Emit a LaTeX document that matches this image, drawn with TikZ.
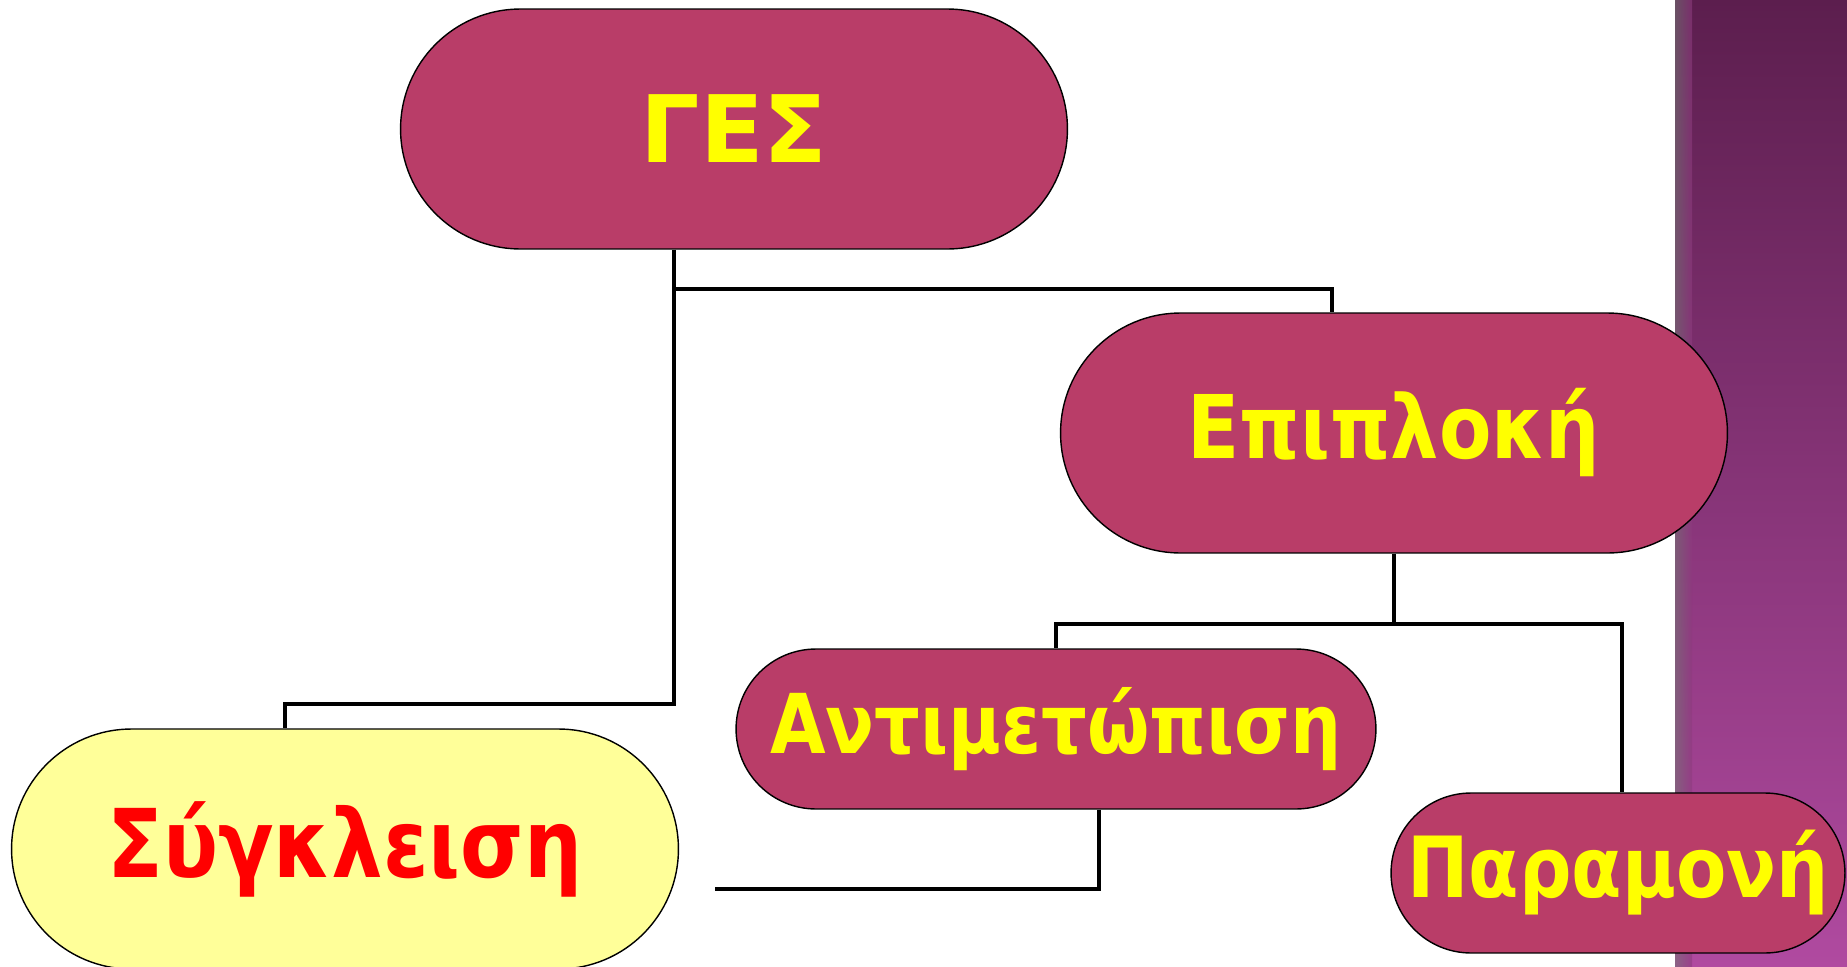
\documentclass[tikz,border=0pt]{standalone}
\usepackage{fontspec}
\setmainfont[FakeStretch=0.87]{DejaVu Sans}
\newfontfamily\gesfont{DejaVu Sans}
\newfontfamily\sygfont[FakeStretch=0.86]{DejaVu Sans}
\usetikzlibrary{shapes.misc,positioning,calc}
\definecolor{pillfill}{RGB}{185,61,104}
\definecolor{pillyellow}{RGB}{255,255,0}
\definecolor{sygfill}{RGB}{255,255,153}
\definecolor{stripTop}{RGB}{92,30,78}
\definecolor{stripBot}{RGB}{176,74,160}

\begin{document}
\begin{tikzpicture}[x=0.02cm,y=-0.02cm]
    % Stili
    \tikzset{
        pill/.style={rounded rectangle, draw=black, line width=0.8pt, fill=pillfill, text=pillyellow, font=\bfseries, inner sep=0pt},
        bigpill/.style={pill, minimum width=13.34cm, minimum height=4.8cm},
        smallpill/.style={pill, minimum height=3.2cm},
        link/.style={draw=black, line width=2.8pt}
    }
    \useasboundingbox (0,0) rectangle (1847,967);

    % Fascia laterale
    \shade[top color=stripTop, bottom color=stripBot] (1675,0) rectangle (1847,967);
    \shade[left color=black!55, right color=stripBot!60!stripTop, opacity=0.6] (1675,0) rectangle (1692,967);

    % Nodi
    \node[bigpill] (ges) at (734,129) {\gesfont\bfseries\fontsize{53}{58}\selectfont ΓΕΣ};
    \node[bigpill] (epi) at (1394,433) {\fontsize{50}{54}\selectfont Επιπλοκή};
    \node[smallpill, minimum width=12.8cm] (ant) at (1056,729) {\fontsize{47}{52}\selectfont Αντιμετώπιση};
    \node[smallpill, minimum width=9.08cm] (par) at (1618,873) {\fontsize{48}{52}\selectfont Παραμονή};
    \node[bigpill, fill=sygfill, text=red] (syg) at (345,849) {\sygfont\fontsize{54}{58}\selectfont Σύγκλειση};

    % Collegamenti
    \coordinate (gesJ) at (674,289);
    \coordinate (epiJ) at (1394,624);
    \coordinate (antJ) at (1099,889);
    \coordinate (sygEnd) at (715,889);
    \draw[link] (ges.south -| gesJ) -- (gesJ) -| ($(epi.north)+(-62,0)$);
    \draw[link] (gesJ) -- ($(gesJ)+(0,415)$) -| ($(syg.north)+(-60,0)$);
    \draw[link] (epi.south) -- (epiJ) -| (ant.north);
    \draw[link] (epiJ) -| ($(par.north)+(4,0)$);
    \draw[link] (ant.south -| antJ) -- (antJ) -- (sygEnd);
\end{tikzpicture}
\end{document}
